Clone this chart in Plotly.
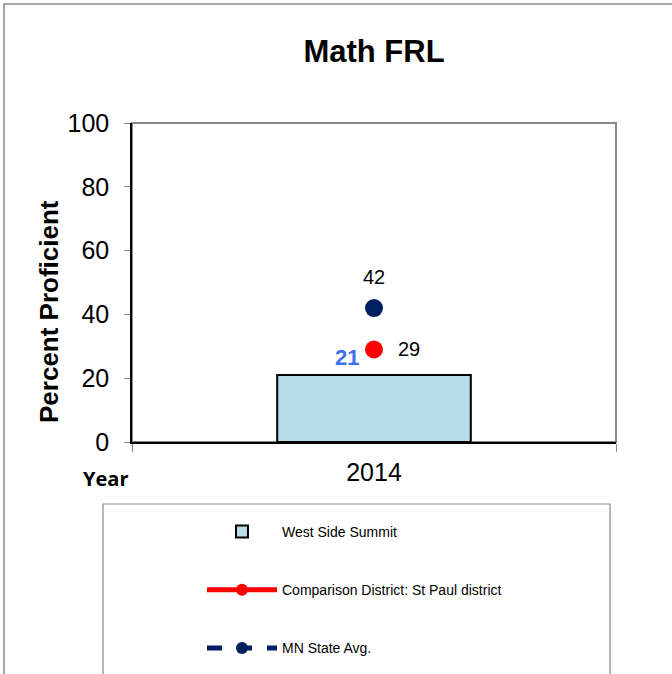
import plotly.graph_objects as go

years = ["2014"]
school = [21]
district = [29]
state = [42]
names = ["West Side Summit", "Comparison District: St Paul district", "MN State Avg."]

W, H = 672, 674
L, R, T, B = 132, 616, 123, 442
pw, ph = R - L, B - T

def px(x):
    return (x - L) / pw

def py(y):
    return (B - y) / ph

fig = go.Figure()
fig.add_trace(go.Bar(x=years, y=school, name=names[0], width=0.4,
                     marker=dict(color="#B7DDE8", line=dict(color="black", width=2)),
                     legendgroup="a"))
fig.add_trace(go.Scatter(x=years, y=district, name=names[1], mode="lines+markers",
                         line=dict(color="#FF0000", width=4),
                         marker=dict(color="#FF0000", size=18), legendgroup="b"))
fig.add_trace(go.Scatter(x=years, y=state, name=names[2], mode="lines+markers",
                         line=dict(color="#002060", width=4, dash="dash"),
                         marker=dict(color="#002060", size=18), legendgroup="c"))

ci = years.index("2014")
ann = [
    dict(x=ci, y=state[0], text=str(state[0]), showarrow=False, yshift=31,
         font=dict(size=20, color="black", family="Liberation Sans, Arial")),
    dict(x=ci, y=district[0], text=str(district[0]), showarrow=False, xshift=35,
         font=dict(size=20, color="black", family="Liberation Sans, Arial")),
    dict(x=ci, y=school[0], text="<b>%d</b>" % school[0], showarrow=False, xshift=-27, yshift=18,
         font=dict(size=22, color="#3F6FEF", family="Liberation Sans, Arial")),
    dict(xref="paper", yref="paper", x=px(49), y=py(312), xanchor="center", yanchor="middle",
         text="<b>Percent Proficient</b>", textangle=-90, showarrow=False,
         font=dict(size=26, color="black", family="Liberation Sans, Arial")),
    dict(xref="paper", yref="paper", x=px(105), y=py(478), xanchor="center", yanchor="middle",
         text="<b>Year</b>", showarrow=False,
         font=dict(size=20, color="black", family="Open Sans, Lato, sans-serif")),
]

shapes = [
    dict(type="rect", xref="paper", yref="paper", x0=px(4), x1=px(720), y0=py(4), y1=py(720),
         line=dict(color="#888888", width=1.5), fillcolor="rgba(0,0,0,0)", layer="below"),
    dict(type="rect", xref="paper", yref="paper", x0=0, x1=1, y0=0, y1=1,
         line=dict(color="#888888", width=2), fillcolor="rgba(0,0,0,0)", layer="below"),
    dict(type="rect", xref="paper", yref="paper", x0=px(103), x1=px(610), y0=py(504), y1=py(720),
         line=dict(color="#888888", width=1.2), fillcolor="rgba(0,0,0,0)", layer="below"),
]

fig.update_layout(
    width=W, height=H,
    margin=dict(l=L, r=W - R, t=T, b=H - B, autoexpand=False),
    paper_bgcolor="white", plot_bgcolor="white",
    font=dict(family="Liberation Sans, Arial", color="black"),
    title=dict(text="<b>Math FRL</b>", x=0.5, xref="paper", xanchor="center",
               y=1 - 51 / H, yanchor="middle", font=dict(size=31, color="black")),
    xaxis=dict(type="category", tickson="boundaries", ticks="outside", ticklen=8,
               tickcolor="#888888", showline=True, linecolor="black", linewidth=1.5,
               showgrid=False, tickfont=dict(size=25), fixedrange=True, tickangle=0,
               ticklabelstandoff=7),
    yaxis=dict(range=[0, 100], tickvals=[0, 20, 40, 60, 80, 100], ticks="outside", ticklen=6,
               tickcolor="#888888", showline=True, linecolor="black", linewidth=1.5,
               showgrid=False, zeroline=False, tickfont=dict(size=25), fixedrange=True,
               ticklabelstandoff=10),
    showlegend=True,
    legend=dict(x=px(202), y=py(516), xanchor="left", yanchor="top", tracegroupgap=37,
                itemwidth=70, itemsizing="constant", font=dict(size=14, color="black"),
                bgcolor="rgba(0,0,0,0)", traceorder="grouped"),
    annotations=ann,
    shapes=shapes,
)

fig.write_html("out.html", config={"displayModeBar": False},
               post_script="document.body.style.margin='0';")
